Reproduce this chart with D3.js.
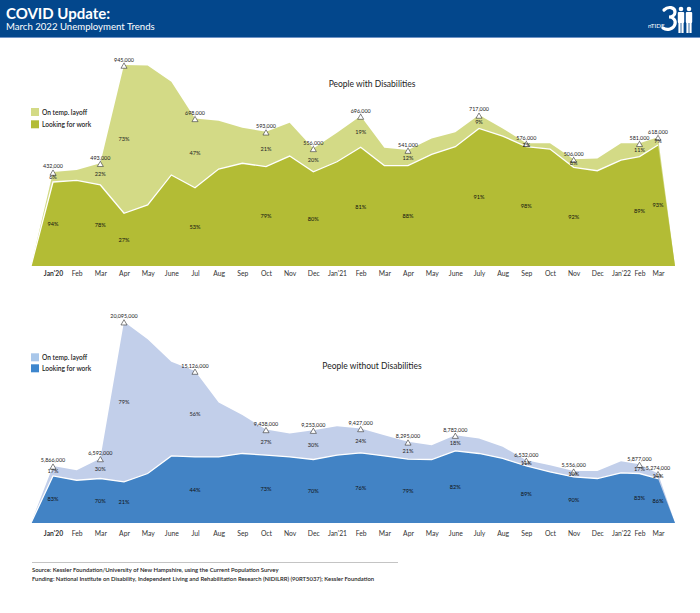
<!DOCTYPE html>
<html><head><meta charset="utf-8">
<script src="https://cdn.jsdelivr.net/npm/d3@7"></script>
<style>body{margin:0;background:#fff}svg{display:block}text{font-family:Lato,"Open Sans",sans-serif}</style>
</head><body><svg id="c" width="700" height="613"></svg>
<script>
// ---------- data ----------
const months = ["Jan'20","Feb","Mar","Apr","May","June","Jul","Aug","Sep","Oct","Nov","Dec",
  "Jan'21","Feb","Mar","Apr","May","June","July","Aug","Sep","Oct","Nov","Dec","Jan'22","Feb","Mar"];

// People with disabilities (thousands)
const pwdLooking = [395,403,381,248,287,428,368,456,483,467,517,443,490,558,472,472,525,561,647,611,561,550,464,448,498,514,569];
const pwdLayoff  = [47,48,102,697,656,438,326,227,167,164,157,110,137,147,84,73,75,68,63,36,16,27,38,58,79,63,36];
const pwdLabelIdx = [0,2,3,6,9,11,13,15,18,20,22,25,26];
const pwdTotals   = [432000,493000,945000,698000,593000,556000,696000,541000,717000,576000,506000,581000,618000];
const pwdLayoffPct = [6,22,73,47,21,20,19,12,9,2,8,11,7];
const pwdLookPct   = [94,78,27,53,79,80,81,88,91,98,92,89,93];

// People without disabilities (thousands)
const pwodLooking = [4700,4270,4440,4100,4940,6700,6600,6600,6940,6770,6600,6340,6770,7000,6700,6370,6340,7200,6940,6440,5700,5100,4600,4440,5000,4940,4440];
const pwodLayoff  = [1000,1000,2000,15995,13400,9400,8570,5440,3830,2570,2340,2930,2900,2440,2070,1730,1430,1570,1500,1160,570,670,600,760,1170,930,500];
const pwodLabelIdx = [0,2,3,6,9,11,13,15,17,20,22,25,26];
const pwodTotals   = [5866000,6592000,20095000,15126000,9438000,9253000,9427000,8295000,8782000,6532000,5556000,5877000,5274000];
const pwodLayoffPct = [17,30,79,56,27,30,24,21,18,11,10,17,14];
const pwodLookPct   = [83,70,21,44,73,70,76,79,82,89,90,83,86];

const seriesNames = ["On temp. layoff","Looking for work"];

// ---------- drawing ----------
const svg = d3.select("#c");
const fmt = d3.format(",");

// header
svg.append("rect").attr("x",0).attr("y",0).attr("width",700).attr("height",38).attr("fill","#03478c");
svg.append("line").attr("x1",0).attr("x2",700).attr("y1",37.5).attr("y2",37.5).attr("stroke","#6f93c6").attr("stroke-width",1);
svg.append("text").attr("x",6).attr("y",19).attr("fill","#fff").attr("font-size",15).attr("font-weight",700).text("COVID Update:");
svg.append("text").attr("x",6).attr("y",30).attr("fill","#fff").attr("font-size",9.6).text("March 2022 Unemployment Trends");
// logo
const logo = svg.append("g").attr("fill","#fff");
logo.append("text").attr("x",648).attr("y",28).attr("font-size",6.3).text("nTIDE");
logo.append("path")
  .attr("d","M664,10 C668,6 675,7 675,12 C675,15 672,17 669,17 C673,17 676,20 675,24 C674,29 667,31 663,28")
  .attr("fill","none").attr("stroke","#fff").attr("stroke-width",3.2).attr("stroke-linecap","round");
[[681,9],[689,9]].forEach(([cx,cy])=>{
  logo.append("circle").attr("cx",cx).attr("cy",cy).attr("r",2.3);
  logo.append("rect").attr("x",cx-3.2).attr("y",cy+3).attr("width",6.4).attr("height",11).attr("rx",1);
  logo.append("rect").attr("x",cx-2.6).attr("y",cy+13).attr("width",2.2).attr("height",11);
  logo.append("rect").attr("x",cx+0.4).attr("y",cy+13).attr("width",2.2).attr("height",11);
});

function drawChart(cfg){
  const g = svg.append("g");
  const n = months.length;
  const x = d3.scaleLinear().domain([-1,0,24,26,27]).range([31,53,621,658,675]);
  const rows = months.map((m,i)=>({i, look:cfg.looking[i], lay:cfg.layoff[i]}));
  const padded = [{i:-1,look:0,lay:0}, ...rows, {i:n,look:0,lay:0}];
  const stack = d3.stack().keys(["look","lay"])(padded);
  const maxV = d3.max(stack[1], d=>d[1]);
  const y = d3.scaleLinear().domain([0,maxV]).range([cfg.base,cfg.top]);

  const area = d3.area().x(d=>x(d.data.i)).y0(y(0)).y1(d=>y(d[1]));
  g.append("path").datum(stack[1]).attr("d",area).attr("fill",cfg.light);
  g.append("path").datum(stack[0]).attr("d",area).attr("fill",cfg.dark);
  g.append("path").datum(stack[0].slice(0,n+1))
    .attr("d",d3.line().x(d=>x(d.data.i)).y(d=>y(d[1])))
    .attr("fill","none").attr("stroke","#fff").attr("stroke-width",1.3);

  // title
  g.append("text").attr("x",372).attr("y",cfg.titleY).attr("text-anchor","middle")
    .attr("font-size",8.5).attr("fill","#222").text(cfg.title);

  // legend
  const lg = g.append("g").attr("transform",`translate(31,${cfg.legendY})`);
  [cfg.legendLight, cfg.legendDark].forEach((c,k)=>{
    lg.append("rect").attr("x",0).attr("y",k*cfg.legendStep-4).attr("width",8).attr("height",8).attr("fill",c);
    lg.append("text").attr("x",11).attr("y",k*cfg.legendStep+2.5).attr("font-size",6.6)
      .attr("font-weight",600).attr("fill","#222").text(seriesNames[k]);
  });

  // month axis
  const ax = d3.axisBottom(x).tickValues(d3.range(n)).tickFormat(i=>months[i]).tickSize(0).tickPadding(0);
  const axG = g.append("g").attr("transform",`translate(0,${cfg.axisY})`).call(ax);
  axG.select(".domain").remove();
  axG.selectAll("text").attr("font-size",6.8).attr("fill","#333").attr("font-family","Lato,sans-serif")
    .attr("font-weight",(d)=>d===0?700:400).attr("dy",0);

  // annotations
  const tri = d3.symbol().type(d3.symbolTriangle).size(16);
  cfg.labelIdx.forEach((i,k)=>{
    const r = rows[i];
    const cx = x(i);
    const ty = y(r.look+r.lay);
    g.append("path").attr("d",tri).attr("transform",`translate(${cx},${ty+1.5})`)
      .attr("fill","#fff").attr("stroke","#333").attr("stroke-width",0.6);
    g.append("text").attr("x",cx).attr("y",ty-3.5).attr("text-anchor","middle")
      .attr("font-size",5.4).attr("fill","#222").text(fmt(cfg.totals[k]));
    g.append("text").attr("x",cx).attr("y",y(r.look + r.lay/2)+2).attr("text-anchor","middle")
      .attr("font-size",5.6).attr("fill","#222").text(cfg.layPct[k]+"%");
    g.append("text").attr("x",cx).attr("y",y(r.look/2)+2).attr("text-anchor","middle")
      .attr("font-size",5.6).attr("fill","#111").text(cfg.lookPct[k]+"%");
  });
}

drawChart({looking:pwdLooking, layoff:pwdLayoff, labelIdx:pwdLabelIdx, totals:pwdTotals,
  layPct:pwdLayoffPct, lookPct:pwdLookPct, base:266, top:65,
  light:"#d3da86", dark:"#b3bc35", legendLight:"#d3da86", legendDark:"#b3bc35",
  title:"People with Disabilities", titleY:87, legendY:112, legendStep:12.3, axisY:276});

drawChart({looking:pwodLooking, layoff:pwodLayoff, labelIdx:pwodLabelIdx, totals:pwodTotals,
  layPct:pwodLayoffPct, lookPct:pwodLookPct, base:523, top:321.7,
  light:"#c2cfea", dark:"#4283c5", legendLight:"#a9c7ea", legendDark:"#3d86cd",
  title:"People without Disabilities", titleY:369, legendY:357.3, legendStep:11, axisY:535.5});

// footer
svg.append("line").attr("x1",32).attr("x2",398).attr("y1",562.5).attr("y2",562.5).attr("stroke","#b5b5b5").attr("stroke-width",0.8);
svg.append("text").attr("x",32).attr("y",572).attr("font-size",5.9).attr("font-weight",600).attr("fill","#222")
  .text("Source: Kessler Foundation/University of New Hampshire, using the Current Population Survey");
svg.append("text").attr("x",32).attr("y",581).attr("font-size",5.9).attr("font-weight",600).attr("fill","#222")
  .text("Funding: National Institute on Disability, Independent Living and Rehabilitation Research (NIDILRR) (90RT5037); Kessler Foundation");
</script></body></html>
